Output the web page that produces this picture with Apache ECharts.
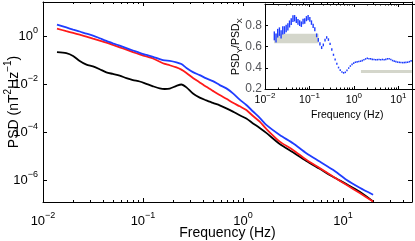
<!DOCTYPE html>
<html><head><meta charset="utf-8">
<script src="https://cdn.jsdelivr.net/npm/echarts@6/dist/echarts.min.js"></script>
<style>html,body{margin:0;padding:0;background:#fff}#c{width:415px;height:241px}</style>
</head><body><div id="c"></div>
<script>
// ---------------- data ----------------
const freq = [0.0138, 0.0171, 0.02, 0.0233, 0.0272, 0.0316, 0.0369, 0.043, 0.05, 0.0585, 0.0682, 0.0794, 0.0927, 0.108, 0.126, 0.147, 0.165, 0.185, 0.216, 0.242, 0.272, 0.316, 0.369, 0.43, 0.5, 0.585, 0.682, 0.794, 0.927, 1.08, 1.26, 1.47, 1.71, 2.33, 3.16, 4.3, 5.85, 7.94, 10.8, 14.7, 20];
const psdBlue = [3.13, 2.37, 1.94, 1.61, 1.30, 1.09, 0.841, 0.649, 0.516, 0.41, 0.326, 0.259, 0.205, 0.169, 0.14, 0.113, 0.099, 0.0953, 0.0826, 0.0701, 0.0482, 0.0322, 0.0242, 0.0176, 0.0136, 0.00927, 0.00675, 0.00418, 0.0023, 0.00136, 7.3e-4, 3.98e-4, 2.0e-4, 7.6e-5, 3.45e-5, 1.32e-5, 5.9e-6, 2.66e-6, 1.02e-6, 4.73e-7, 2.42e-7];
const psdRed = [2.13, 1.66, 1.40, 1.18, 0.99, 0.818, 0.675, 0.557, 0.443, 0.351, 0.279, 0.222, 0.178, 0.145, 0.12, 0.0875, 0.0708, 0.0625, 0.0506, 0.041, 0.0299, 0.0185, 0.012, 0.00787, 0.00531, 0.00355, 0.00247, 0.0017, 0.0012, 8.4e-4, 4.73e-4, 2.74e-4, 1.36e-4, 4.02e-5, 1.81e-5, 6.95e-6, 3.13e-6, 1.4e-6, 6.3e-7, 2.84e-7, 1.27e-7];
const psdBlack = [0.22, 0.2, 0.153, 0.0944, 0.0662, 0.0557, 0.0426, 0.0316, 0.0271, 0.023, 0.0181, 0.015, 0.0131, 0.0104, 0.00826, 0.00675, 0.00637, 0.00662, 0.00858, 0.00982, 0.00743, 0.0041, 0.00277, 0.00213, 0.00166, 0.00132, 9.9e-4, 7.2e-4, 5.06e-4, 3.72e-4, 2.31e-4, 1.5e-4, 9.3e-5, 3.22e-5, 1.43e-5, 6.3e-6, 2.93e-6, 1.36e-6, 6.75e-7, 3.22e-7, 1.27e-7];

const ratioFreq = [0.0162, 0.0177, 0.0193, 0.0211, 0.0230, 0.0251, 0.0274, 0.0299, 0.0327, 0.0356, 0.0389, 0.0425, 0.0463, 0.0506, 0.0552, 0.0603, 0.0658, 0.0718, 0.0783, 0.0855, 0.0933, 0.102, 0.111, 0.121, 0.132, 0.145, 0.158, 0.172, 0.188, 0.205, 0.224, 0.244, 0.267, 0.291, 0.318, 0.347, 0.378, 0.413, 0.451, 0.492, 0.537, 0.586, 0.64, 0.698, 0.762, 0.832, 0.908, 0.991, 1.08, 1.18, 1.29, 1.41, 1.54, 1.68, 1.83, 2.0, 2.18, 2.38, 2.59, 2.83, 3.09, 3.37, 3.68, 4.01, 4.38, 4.78, 5.21, 5.69, 6.21, 6.77, 7.39, 8.06, 8.79, 9.59, 10.5, 11.4, 12.5, 13.6, 14.8, 16.2, 17.7, 19.3];
const ratioVal = [0.70, 0.68, 0.725, 0.74, 0.715, 0.752, 0.755, 0.77, 0.785, 0.812, 0.835, 0.862, 0.866, 0.85, 0.832, 0.82, 0.81, 0.836, 0.84, 0.862, 0.872, 0.855, 0.825, 0.795, 0.762, 0.705, 0.662, 0.625, 0.59, 0.615, 0.66, 0.685, 0.665, 0.625, 0.572, 0.522, 0.478, 0.438, 0.402, 0.378, 0.36, 0.352, 0.357, 0.375, 0.397, 0.416, 0.432, 0.444, 0.452, 0.455, 0.459, 0.462, 0.467, 0.476, 0.483, 0.489, 0.485, 0.484, 0.479, 0.478, 0.475, 0.476, 0.478, 0.475, 0.478, 0.476, 0.479, 0.484, 0.485, 0.478, 0.468, 0.462, 0.458, 0.453, 0.451, 0.449, 0.448, 0.449, 0.451, 0.452, 0.457, 0.465];
const ratioErr = [0.042, 0.042, 0.041, 0.040, 0.039, 0.038, 0.036, 0.035, 0.034, 0.033, 0.032, 0.031, 0.030, 0.029, 0.028, 0.027, 0.026, 0.026, 0.025, 0.024, 0.024, 0.022, 0.021, 0.020, 0.019, 0.018, 0.017, 0.015, 0.014, 0.013, 0.013, 0.012, 0.012, 0.011, 0.011, 0.010, 0.009, 0.009, 0.008, 0.008, 0.008, 0.008, 0.007, 0.007, 0.007, 0.007, 0.007, 0.007, 0.007, 0.007, 0.007, 0.006, 0.006, 0.006, 0.006, 0.006, 0.006, 0.006, 0.006, 0.006, 0.006, 0.006, 0.006, 0.006, 0.006, 0.006, 0.006, 0.006, 0.006, 0.006, 0.006, 0.006, 0.006, 0.006, 0.006, 0.006, 0.006, 0.006, 0.006, 0.006, 0.006, 0.006];

// shaded bands: [fStart, fEnd, ratioLow, ratioHigh]
const bandLow = [0.016, 0.16, 0.63, 0.72];
const bandHigh = [1.44, 20, 0.35, 0.38];

// tick definitions (exponents for log axes)
const mainXExp = [-2, -1, 0, 1];
const mainYExp = [-6, -4, -2, 0];
const insetYTicks = [0.2, 0.4, 0.6, 0.8];

// ---------------- helpers ----------------
const L = Math.log10;
const FONT = '"Liberation Sans", Arial, Helvetica, sans-serif';
const BLUE = '#1f3dff', RED = '#ff1a1a', BLACK = '#000000', BAND = '#d4d6cb';

const X_MIN = -2, X_MAX_MAIN = 1.69, X_MAX_INSET = 1.7;
const Y_MIN = -6.92, Y_MAX = 1.44;

function minorExp(lo, hi) {
  const out = [];
  for (let n = Math.floor(lo); n <= Math.ceil(hi); n++) {
    for (let k = 2; k <= 9; k++) {
      const v = n + L(k);
      if (v > lo && v < hi) out.push(v);
    }
  }
  return out;
}
function powRich(fs) {
  return {
    b: { fontSize: fs, fontFamily: FONT, color: '#000', lineHeight: Math.round(fs * 1.55) },
    s: { fontSize: Math.round(fs * 0.72), fontFamily: FONT, color: '#000', lineHeight: Math.round(fs * 0.72), verticalAlign: 'top' },
    d: { fontSize: Math.round(fs * 0.72), fontFamily: FONT, color: '#000', lineHeight: Math.round(fs * 0.72), verticalAlign: 'bottom' }
  };
}
function powLabel(v) {
  const n = Math.round(v);
  return '{b|10}{s|' + (n < 0 ? '\u2212' : '') + Math.abs(n) + '}';
}
function axis(o) {
  return {
    type: 'value', gridIndex: o.grid, position: o.pos, min: o.min, max: o.max,
    show: o.show !== false, z: o.z || 0,
    axisLine: { show: !!o.line, onZero: false, lineStyle: { color: '#000', width: 1 } },
    axisTick: { show: !!o.ticks, inside: true, length: o.tlen || 4, customValues: o.ticks || [], lineStyle: { color: '#000', width: 1 } },
    axisLabel: o.labels ? { show: true, customValues: o.labels, formatter: o.fmt, rich: o.rich, margin: o.margin, hideOverlap: false, showMinLabel: true, showMaxLabel: true } : { show: false },
    splitLine: { show: false },
    name: o.name || '', nameLocation: 'middle', nameGap: o.nameGap || 0, nameMoveOverlap: false,
    nameTextStyle: o.nameStyle || {}
  };
}

const mainMinor = minorExp(X_MIN, X_MAX_MAIN);
const insetMinor = minorExp(X_MIN, X_MAX_INSET);

const option = {
  animation: false,
  backgroundColor: '#ffffff',
  grid: [
    { left: 43, top: 2, width: 369, height: 200, outerBoundsMode: 'none', containLabel: false, z: 0 },
    { left: 43, top: 2, width: 369, height: 200, outerBoundsMode: 'none', containLabel: false, z: 0 },
    { left: 265, top: 4, width: 164.5, height: 85, outerBoundsMode: 'none', containLabel: false, show: true, backgroundColor: '#ffffff', borderWidth: 0, z: 5 },
    { left: 265, top: 4, width: 164.5, height: 85, outerBoundsMode: 'none', containLabel: false, z: 5 }
  ],
  xAxis: [
    axis({ grid: 0, pos: 'bottom', min: X_MIN, max: X_MAX_MAIN, line: true, ticks: mainXExp, tlen: 4, labels: mainXExp, fmt: powLabel, rich: powRich(13), margin: 9,
      name: 'Frequency (Hz)', nameGap: 24, nameStyle: { fontSize: 14, fontFamily: FONT, color: '#000' } }),
    axis({ grid: 0, pos: 'top', min: X_MIN, max: X_MAX_MAIN, line: true, ticks: mainXExp, tlen: 4 }),
    axis({ grid: 1, pos: 'bottom', min: X_MIN, max: X_MAX_MAIN, ticks: mainMinor, tlen: 2 }),
    axis({ grid: 1, pos: 'top', min: X_MIN, max: X_MAX_MAIN, ticks: mainMinor, tlen: 2 }),
    axis({ grid: 2, pos: 'bottom', min: X_MIN, max: X_MAX_INSET, line: true, ticks: mainXExp, tlen: 3, labels: mainXExp, fmt: powLabel, rich: powRich(10.5), margin: 3, z: 6,
      name: 'Frequency (Hz)', nameGap: 20.5, nameStyle: { fontSize: 10.5, fontFamily: FONT, color: '#000' } }),
    axis({ grid: 2, pos: 'top', min: X_MIN, max: X_MAX_INSET, line: true, ticks: mainXExp, tlen: 3, z: 6 }),
    axis({ grid: 3, pos: 'bottom', min: X_MIN, max: X_MAX_INSET, ticks: insetMinor, tlen: 1.5, z: 6 }),
    axis({ grid: 3, pos: 'top', min: X_MIN, max: X_MAX_INSET, ticks: insetMinor, tlen: 1.5, z: 6 })
  ],
  yAxis: [
    axis({ grid: 0, pos: 'left', min: Y_MIN, max: Y_MAX, line: true, ticks: mainYExp, tlen: 4, labels: mainYExp, fmt: powLabel, rich: powRich(13), margin: 5,
      name: '{b|PSD (nT}{s|2}{b|Hz}{s|\u22121}{b|)}', nameGap: 18, nameStyle: { rich: powRich(14) } }),
    axis({ grid: 0, pos: 'right', min: Y_MIN, max: Y_MAX, line: true, ticks: mainYExp, tlen: 4, z: 8 }),
    axis({ grid: 1, pos: 'left', min: Y_MIN, max: Y_MAX, show: false }),
    axis({ grid: 2, pos: 'left', min: 0.2, max: 1.0, line: true, ticks: insetYTicks, tlen: 3, labels: insetYTicks, fmt: v => v.toFixed(1),
      rich: null, margin: 3, z: 6, name: '{b|PSD}{d|Y}{b|/PSD}{d|X}', nameGap: 21, nameStyle: { rich: powRich(10.5) } }),
    axis({ grid: 3, pos: 'left', min: 0.2, max: 1.0, show: false })
  ],
  series: [
    { type: 'line', name: 'Black', xAxisIndex: 0, yAxisIndex: 0, z: 2, showSymbol: false, smooth: 0.25,
      lineStyle: { color: BLACK, width: 1.8 }, data: freq.map((f, i) => [L(f), L(psdBlack[i])]) },
    { type: 'line', name: 'Red', xAxisIndex: 0, yAxisIndex: 0, z: 2, showSymbol: false, smooth: 0.25,
      lineStyle: { color: RED, width: 1.8 }, data: freq.map((f, i) => [L(f), L(psdRed[i])]) },
    { type: 'line', name: 'Blue', xAxisIndex: 0, yAxisIndex: 0, z: 2, showSymbol: false, smooth: 0.25,
      lineStyle: { color: BLUE, width: 1.8 }, data: freq.map((f, i) => [L(f), L(psdBlue[i])]) },
    { type: 'custom', name: 'bands', xAxisIndex: 4, yAxisIndex: 3, z: 6, clip: true,
      encode: { x: [0, 1], y: [2, 3] },
      data: [bandLow, bandHigh].map(b => [L(b[0]), L(b[1]), b[2], b[3]]),
      renderItem: function (params, api) {
        const p1 = api.coord([api.value(0), api.value(3)]);
        const p2 = api.coord([api.value(1), api.value(2)]);
        return { type: 'rect', shape: { x: p1[0], y: p1[1], width: p2[0] - p1[0], height: p2[1] - p1[1] }, style: { fill: BAND } };
      } },
    { type: 'custom', name: 'ratio', xAxisIndex: 4, yAxisIndex: 3, z: 7, clip: true,
      encode: { x: 0, y: 1 },
      data: ratioFreq.map((f, i) => [L(f), ratioVal[i], ratioErr[i]]),
      renderItem: function (params, api) {
        const x = api.value(0), v = api.value(1), e = api.value(2);
        const a = api.coord([x, v + e]), b = api.coord([x, v - e]);
        const w = 1.4;
        const h = Math.max(b[1] - a[1], 1.6);
        return { type: 'rect', shape: { x: a[0] - w / 2, y: (a[1] + b[1]) / 2 - h / 2, width: w, height: h }, style: { fill: BLUE } };
      } }
  ]
};

const chart = echarts.init(document.getElementById('c'), null, { renderer: 'canvas' });
chart.setOption(option);
</script>
</body></html>
